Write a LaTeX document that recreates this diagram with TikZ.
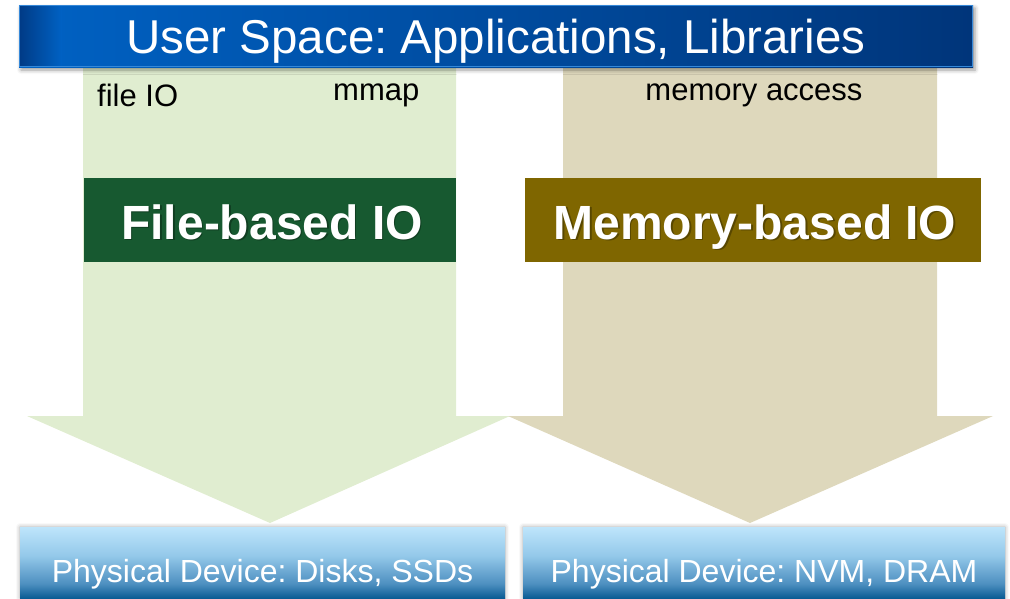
\documentclass[tikz,border=0pt]{standalone}
\usepackage{fontspec}
\setmainfont{Liberation Sans}
\usetikzlibrary{shadows.blur}
\frenchspacing

\definecolor{barblue}{HTML}{0062C4}
\definecolor{barnavy}{HTML}{00357A}
\definecolor{baredge}{HTML}{003B86}
\definecolor{barline}{HTML}{3588D8}
\definecolor{arrowgreen}{HTML}{E0EDD0}
\definecolor{arrowtan}{HTML}{DED8BC}
\definecolor{filegreen}{HTML}{175930}
\definecolor{memolive}{HTML}{7F6600}
\definecolor{devtop}{HTML}{BEE5FB}
\definecolor{devmid}{HTML}{94C9EA}
\definecolor{devlow}{HTML}{4D8FC0}
\definecolor{devbot}{HTML}{0A5C94}

\pgfdeclareverticalshading{devshade}{100bp}{%
  color(0bp)=(devbot); color(25bp)=(devbot); color(35bp)=(devlow);
  color(55bp)=(devmid); color(75bp)=(devtop); color(100bp)=(devtop)}

\tikzset{
  topbar/.style={inner sep=0pt, text=white,
    font=\fontsize{47.5}{52}\selectfont},
  smalllabel/.style={inner sep=0pt, text=black,
    font=\fontsize{31}{36}\selectfont},
  iobox/.style={inner sep=0pt, minimum height=84pt},
  iotext/.style={inner sep=0pt, text=white,
    font=\bfseries\fontsize{48}{52}\selectfont},
  iotextshadow/.style={inner sep=0pt, text=black, opacity=0.3,
    font=\bfseries\fontsize{48}{52}\selectfont},
  devbox/.style={inner sep=0pt, minimum height=71pt, shading=devshade,
    blur shadow={shadow xshift=0pt, shadow yshift=0pt,
      shadow blur radius=4pt, shadow opacity=35}},
  devtext/.style={inner sep=0pt, text=white,
    font=\fontsize{32}{36}\selectfont},
}

\begin{document}
\begin{tikzpicture}[x=1pt, y=-1pt]
\useasboundingbox (0,0) rectangle (1010,598);

% wide downward arrows behind everything
\fill[arrowgreen] (83,40) -- (456,40) -- (456,416) -- (510,416)
  -- (270,523) -- (27,416) -- (83,416) -- cycle;
\fill[arrowtan] (563,40) -- (937,40) -- (937,416) -- (993,416)
  -- (750,523) -- (508,416) -- (563,416) -- cycle;

% user space bar
\fill[barblue, blur shadow={shadow xshift=2pt, shadow yshift=-3pt,
    shadow blur radius=4pt, shadow opacity=40},
    left color=barblue, right color=barnavy]
  (19,5) rectangle (973,67);
\fill[left color=baredge, right color=barblue] (19.5,5.5) rectangle (62,66.5);
\draw[barline, line width=1.2pt] (19.5,5.5) rectangle (972.5,66.5);
\node[topbar, anchor=base] (user) at (496,53) {User Space: Applications, Libraries};

% access labels
\node[smalllabel, anchor=base west] (fileio) at (97,106) {file IO};
\node[smalllabel, anchor=base west] (mmap) at (333,100) {mmap};
\node[smalllabel, anchor=base] (memacc) at (754,100) {memory access};

% IO category boxes
\node[iobox, fill=filegreen, minimum width=372pt] (filebox) at (270,220) {};
\node[iotextshadow, anchor=base] at (273.5,240.5) {File-based IO};
\node[iotext, anchor=base] (filetext) at (272,239) {File-based IO};

\node[iobox, fill=memolive, minimum width=456pt] (membox) at (753,220) {};
\node[iotextshadow, anchor=base] at (756.5,240.5) {Memory-based IO};
\node[iotext, anchor=base] (memtext) at (755,239) {Memory-based IO};

% physical devices
\node[devbox, minimum width=485pt] (disk) at (262.5,562.5) {};
\node[devtext, anchor=base] at (262.5,582) {Physical Device: Disks, SSDs};
\node[devbox, minimum width=482pt] (nvm) at (764,562.5) {};
\node[devtext, anchor=base] at (764,582) {Physical Device: NVM, DRAM};
\end{tikzpicture}
\end{document}
